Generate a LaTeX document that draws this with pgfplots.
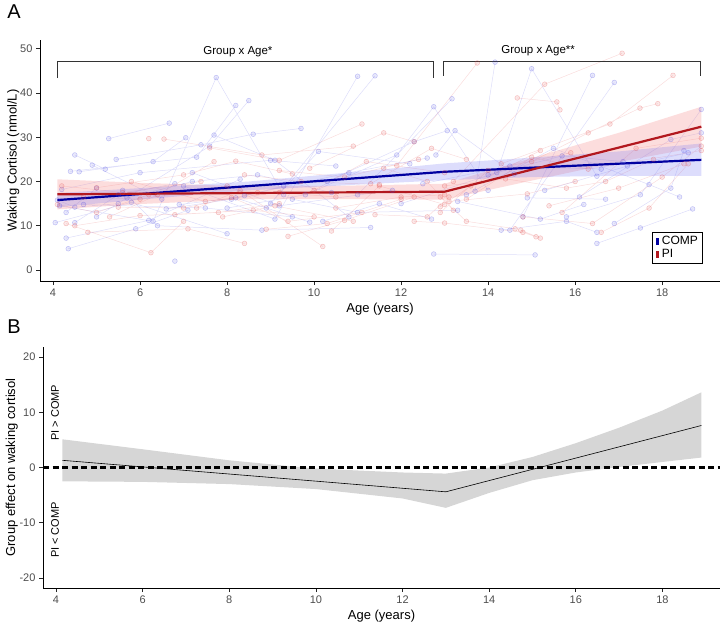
\documentclass[border=0pt]{standalone}
\usepackage{pgfplots}
\pgfplotsset{compat=1.18}
\usepackage{pgfplotstable}
\usepackage{fontspec}
\setmainfont{Liberation Sans}
\definecolor{compblue}{RGB}{0,0,160}
\definecolor{pired}{RGB}{178,24,30}
\definecolor{ptblue}{RGB}{70,70,225}
\definecolor{ptred}{RGB}{225,70,70}
\definecolor{bandblue}{RGB}{120,120,245}
\definecolor{bandred}{RGB}{245,120,120}
\definecolor{tickgray}{RGB}{77,77,77}
\definecolor{bandgray}{RGB}{214,214,214}

\pgfplotstableread{
x y
5.28 29.7
6.67 33.2
nan nan
4.15 14.5
6.3 11.0
7.75 43.5
9.3 17.0
nan nan
4.4 22.3
7.3 25.5
8.2 37.2
nan nan
5.0 12.0
7.6 28.0
8.5 38.3
nan nan
5.45 25.0
7.4 28.3
8.6 30.7
9.7 32.0
nan nan
4.6 22.2
6.3 24.5
7.05 29.9
nan nan
4.3 7.2
6.2 11.2
8.3 20.5
nan nan
4.5 10.7
5.5 17.0
6.8 19.5
nan nan
4.05 10.7
5.8 15.3
8.0 8.2
nan nan
4.9 23.7
6.5 16.0
nan nan
4.5 26.0
5.2 22.8
nan nan
4.2 18.2
6.0 22.0
9.0 24.8
10.5 23.5
nan nan
4.35 4.8
5.9 9.3
7.1 13.5
nan nan
6.8 2.0
nan nan
5.6 18.0
6.4 10.0
8.8 9.0
11.3 9.6
nan nan
4.7 14.8
7.5 14.0
9.5 12.0
nan nan
7.0 19.0
9.1 11.5
11.0 43.8
nan nan
9.0 15.0
11.4 43.9
nan nan
7.7 30.5
9.1 24.8
10.8 12.0
nan nan
8.9 14.0
10.1 26.8
12.2 24.0
nan nan
8.0 14.0
9.8 17.0
11.9 26.0
12.75 36.9
14.0 18.0
nan nan
12.75 3.6
15.08 3.4
nan nan
10.3 20.0
12.3 29.0
13.06 31.5
nan nan
11.0 17.0
13.17 38.7
nan nan
12.8 26.0
13.24 31.5
14.6 21.7
nan nan
13.7 17.8
14.16 47.0
nan nan
12.0 15.0
14.2 22.0
15.0 45.5
16.5 21.2
nan nan
14.8 12.0
16.4 44.0
nan nan
14.5 9.0
16.9 42.4
nan nan
14.3 9.0
15.8 11.0
16.5 8.5
nan nan
15.8 12.0
17.5 17.0
18.9 36.3
nan nan
16.1 16.5
18.2 29.5
18.9 31.0
nan nan
14.9 16.3
16.7 16.0
nan nan
16.5 6.0
17.5 9.5
18.7 13.8
nan nan
16.9 10.5
18.2 18.5
18.5 27.0
nan nan
13.5 17.0
15.5 27.5
17.7 19.3
18.4 16.5
nan nan
14.0 21.5
15.7 25.8
17.1 24.5
nan nan
4.1 15.8
4.5 14.2
5.5 15.0
nan nan
5.7 16.3
7.2 20.0
8.7 21.5
10.4 17.5
nan nan
8.4 16.8
10.8 22.0
12.6 25.3
nan nan
10.2 11.0
11.5 15.0
12.7 11.5
nan nan
9.5 16.0
11.0 13.0
13.3 13.5
nan nan
6.6 13.8
8.1 16.0
9.3 19.0
nan nan
7.2 22.0
9.2 14.5
11.8 18.0
nan nan
12.5 19.5
14.5 23.5
16.6 22.8
nan nan
15.3 18.0
17.2 23.5
18.6 26.5
nan nan
13.3 15.5
15.2 11.5
16.2 14.8
nan nan
4.3 13.0
5.0 18.5
nan nan
6.9 14.8
8.2 16.3
9.9 10.8
}\compdata

\pgfplotstableread{
x y
4.3 10.5
6.25 3.9
7.0 11.0
nan nan
6.2 29.7
nan nan
6.55 29.6
8.8 26.0
10.9 28.0
nan nan
4.2 19.0
5.6 17.5
7.4 20.0
nan nan
4.5 10.0
6.0 12.3
7.8 13.0
9.2 15.0
nan nan
4.8 8.5
7.1 9.3
8.4 6.0
nan nan
5.3 12.0
6.4 17.0
7.7 24.5
nan nan
5.0 18.6
7.0 21.5
8.2 24.6
9.5 21.7
nan nan
7.3 14.0
8.3 18.0
10.2 5.3
nan nan
7.6 27.6
9.2 24.8
11.1 33.0
nan nan
8.1 16.4
9.4 11.0
11.1 13.0
nan nan
8.9 9.2
10.3 10.5
12.0 16.0
nan nan
9.4 7.6
10.7 11.2
12.3 16.5
nan nan
9.9 23.0
11.6 31.0
12.3 29.0
nan nan
10.0 18.0
11.2 24.5
13.0 22.0
nan nan
10.4 8.8
11.5 19.0
13.0 14.8
nan nan
9.2 22.5
10.7 21.0
12.4 25.0
nan nan
11.6 23.0
12.6 20.0
13.2 13.5
nan nan
12.3 11.0
13.0 10.6
14.8 8.5
15.1 7.5
nan nan
12.9 16.5
13.5 11.0
14.62 9.3
nan nan
11.9 23.6
13.75 46.8
nan nan
14.67 38.9
15.58 38.0
15.65 36.2
nan nan
13.2 20.0
15.3 42.0
17.08 49.0
nan nan
14.3 24.0
16.8 33.0
18.25 44.0
nan nan
15.0 24.5
16.3 31.0
17.49 36.6
17.9 37.6
nan nan
13.0 19.0
14.4 20.6
15.8 18.5
16.7 20.0
17.8 25.0
nan nan
13.5 16.0
15.0 25.5
16.3 22.8
18.9 27.0
nan nan
15.4 14.5
17.0 18.5
18.5 24.0
nan nan
14.8 12.0
16.4 10.5
18.0 21.0
18.9 28.0
nan nan
13.1 15.5
14.9 17.2
16.0 20.0
nan nan
15.7 13.0
17.4 27.5
18.9 29.8
nan nan
16.6 8.5
17.7 14.0
18.6 24.0
nan nan
4.1 14.8
5.0 13.0
6.2 17.0
nan nan
5.8 20.0
7.5 15.5
9.2 17.5
10.5 16.5
nan nan
6.8 12.5
8.6 13.5
10.0 12.0
nan nan
4.7 16.5
6.0 16.0
8.0 19.0
nan nan
11.3 19.5
12.7 27.5
13.5 25.0
nan nan
11.4 12.5
12.6 12.0
13.1 16.5
nan nan
8.4 21.5
9.7 20.0
11.5 19.3
nan nan
7.9 12.0
9.1 14.5
10.9 11.0
nan nan
12.9 14.3
13.6 19.0
15.2 27.0
nan nan
5.5 14.2
7.0 14.0
8.7 17.5
nan nan
10.5 14.0
12.0 16.5
13.0 17.0
nan nan
14.75 9.0
15.2 7.2
nan nan
12.9 13.0
14.0 22.5
15.9 26.5
}\pidata

\begin{document}
\begin{tikzpicture}
\path[use as bounding box] (0pt,0pt) rectangle (722pt,633pt);
\pgfplotsset{
  ggaxis/.style={
    scale only axis,
    axis x line*=bottom, axis y line*=left,
    axis line style={-, line width=0.8pt, black},
    tick align=outside, major tick length=4pt,
    tick style={line width=0.7pt, black!85},
    ticklabel style={font=\fontsize{11}{13}\selectfont, text=tickgray},
    label style={font=\fontsize{13}{15}\selectfont},
    xmin=3.70, xmax=19.33,
    xtick={4,6,...,18},
    /pgf/number format/assume math mode=true,
  }
}
% Panel A
\begin{axis}[ggaxis,
  at={(40pt,352pt)}, anchor=south west,
  width=680pt, height=241pt,
  ymin=-2.5, ymax=52.0,
  ytick={0,10,...,50},
  xlabel={Age (years)},
  ylabel={Waking Cortisol (nmol/L)},
  ylabel shift=-6pt,
  clip=false,
  legend style={at={(rel axis cs:0.974,0.203)}, anchor=north east,
    draw=black, line width=0.7pt, font=\fontsize{12}{13}\selectfont,
    inner xsep=2pt, inner ysep=2pt, row sep=-1pt, cells={anchor=west}},
  legend cell align=left,
]
% trajectories
\addplot[forget plot, ptblue, line width=0.5pt, draw opacity=0.18, unbounded coords=jump, no marks] table[x=x,y=y] {\compdata};
\addplot[forget plot, ptred, line width=0.5pt, draw opacity=0.18, unbounded coords=jump, no marks] table[x=x,y=y] {\pidata};
\addplot[forget plot, only marks, mark=*, mark size=2.4pt, unbounded coords=jump,
  mark options={draw=ptblue, fill=ptblue, draw opacity=0.3, fill opacity=0.12, line width=0.5pt}] table[x=x,y=y] {\compdata};
\addplot[forget plot, only marks, mark=*, mark size=2.4pt, unbounded coords=jump,
  mark options={draw=ptred, fill=ptred, draw opacity=0.3, fill opacity=0.12, line width=0.5pt}] table[x=x,y=y] {\pidata};
% bands
\addplot[forget plot, fill=bandred, fill opacity=0.25, draw=none] coordinates {
 (4.1,20.5) (6,19.7) (8.5,18.9) (11,19.1) (13,19.5) (15,25.3) (17,31.0) (18.9,36.9)
 (18.9,27.9) (17,24.4) (15,20.2) (13,15.9) (11,16.0) (8.5,16.0) (6,14.9) (4.1,13.7)} -- cycle;
\addplot[forget plot, fill=bandblue, fill opacity=0.25, draw=none] coordinates {
 (4.1,17.4) (6,18.5) (8.5,20.0) (11,22.2) (13,24.1) (15,25.4) (17,26.8) (18.9,28.6)
 (18.9,21.3) (17,21.3) (15,21.0) (13,20.3) (11,19.3) (8.5,18.0) (6,15.9) (4.1,14.2)} -- cycle;
% fitted lines
\addplot[forget plot, compblue, line width=2.2pt] coordinates {(4.1,15.8) (13,22.2) (18.9,24.9)};
\addplot[forget plot, pired, line width=2.2pt] coordinates {(4.1,17.1) (13,17.7) (18.9,32.4)};
% brackets
\addplot[forget plot, black!80, line width=0.7pt] coordinates {(4.1,43.4) (4.1,47.1) (12.75,47.1) (12.75,43.4)};
\addplot[forget plot, black!80, line width=0.7pt] coordinates {(12.97,43.9) (12.97,47.1) (18.87,47.1) (18.87,43.9)};
\node[font=\fontsize{11.5}{13}\selectfont] at (axis cs:8.25,49.3) {Group x Age*};
\node[font=\fontsize{11.5}{13}\selectfont] at (axis cs:15.15,49.5) {Group x Age**};
% legend
\addlegendimage{legend image code/.code={\path[draw=none,fill=none] (0pt,-4pt) rectangle (6pt,4pt); \fill[compblue,draw=none] (2.5pt,-3.5pt) rectangle (5pt,3.5pt);}}
\addlegendentry{COMP}
\addlegendimage{legend image code/.code={\path[draw=none,fill=none] (0pt,-4pt) rectangle (6pt,4pt); \fill[pired,draw=none] (2.5pt,-3.5pt) rectangle (5pt,3.5pt);}}
\addlegendentry{PI}
\end{axis}

% Panel B
\begin{axis}[ggaxis,
  at={(43pt,45pt)}, anchor=south west,
  width=677pt, height=241pt,
  ymin=-21.8, ymax=21.8,
  ytick={-20,-10,0,10,20},
  xlabel={Age (years)},
  ylabel={Group effect on waking cortisol},
  ylabel shift=-5pt,
  clip=false,
]
\addplot[fill=bandgray, draw=none] coordinates {
 (4.15,5.1) (6,3.3) (8,1.3) (10,-0.2) (12,-0.9) (13,-1.1) (14,0.0) (15,1.9) (16,4.4) (17,7.2) (18,10.3) (18.9,13.6)
 (18.9,1.8) (18,1.0) (17,0.1) (16,-0.9) (15,-2.3) (14,-4.6) (13,-7.3) (12,-5.6) (10,-3.9) (8,-3.0) (6,-2.6) (4.15,-2.5)} -- cycle;
\addplot[black, line width=0.6pt] coordinates {(4.15,1.3) (13,-4.4) (18.9,7.6)};
\addplot[black, line width=2.2pt, dash pattern=on 6pt off 3.5pt] coordinates {(3.70,0) (19.33,0)};
\node[rotate=90, font=\fontsize{11}{13}\selectfont] at (axis cs:3.98,9.9) {PI > COMP};
\node[rotate=90, font=\fontsize{11}{13}\selectfont] at (axis cs:3.98,-11.3) {PI < COMP};
\end{axis}

\node[font=\fontsize{20}{22}\selectfont] at (14pt,621pt) {A};
\node[font=\fontsize{20}{22}\selectfont] at (14pt,306pt) {B};
\end{tikzpicture}
\end{document}
